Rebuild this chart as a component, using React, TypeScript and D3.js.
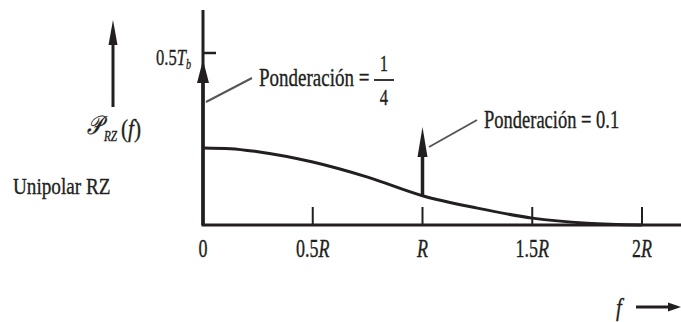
import React from "react";
import * as d3 from "d3";

// frequency in units of R, psd in units of T_b
const freqs = [0, 0.125, 0.25, 0.5, 0.75, 1, 1.25, 1.5, 1.75, 2];
const psd = [0.224, 0.222, 0.213, 0.183, 0.139, 0.085, 0.049, 0.02, 0.005, 0];
const xTicks = [0, 0.5, 1, 1.5, 2];
const xTickNums = ["0", "0.5", "", "1.5", "2"];
const impulses = [
  { f: 0, base: 0, top: 0.48 },
  { f: 1, base: 0.085, top: 0.285 }
];

const W = 681;
const H = 322;
const ink = "#231f20";
const font = "'Liberation Serif', 'DejaVu Serif', serif";

// condensed serif text, like the scanned figure
const Label = ({ x, y, size = 26, sx = 0.72, anchor = "start", children }: any) => (
  <g transform={`translate(${x},${y}) scale(${sx},1)`}>
    <text x={0} y={0} fontFamily={font} fontSize={size} textAnchor={anchor} fill={ink}
      stroke={ink} strokeWidth={0.35}>
      {children}
    </text>
  </g>
);

const App = () => {
  const x = d3.scaleLinear().domain([0, 2]).range([203, 642]);
  const y = d3.scaleLinear().domain([0, 0.5]).range([225, 53]);

  const line = d3
    .line<number>()
    .x((_, i) => x(freqs[i]))
    .y((d) => y(d))
    .curve(d3.curveMonotoneX);

  const arrowUp = (cx: number, tip: number, len: number, half: number) =>
    `M${cx},${tip} L${cx - half},${tip + len} L${cx + half},${tip + len} Z`;

  return (
    <div style={{ position: "absolute", left: 0, top: 0 }}>
      <svg width={W} height={H} style={{ display: "block", background: "#fff" }}>
        {/* axes */}
        <line x1={x(0)} x2={x(0)} y1={10} y2={y(0)} stroke={ink} strokeWidth={3} />
        <line x1={x(0) - 1.5} x2={W} y1={y(0)} y2={y(0)} stroke={ink} strokeWidth={3} />
        <line x1={x(0)} x2={x(0) + 13} y1={y(0.5)} y2={y(0.5)} stroke={ink} strokeWidth={2.5} />
        <Label x={186} y={y(0.5) + 12} size={23} anchor="end">
          0.5<tspan fontStyle="italic">T</tspan>
        </Label>
        <Label x={186} y={y(0.5) + 16} size={14}>
          <tspan fontStyle="italic">b</tspan>
        </Label>

        {xTicks.map((t, i) => (
          <g key={i}>
            {i > 0 && (
              <line x1={x(t)} x2={x(t)} y1={y(0)} y2={y(0) - 18} stroke={ink} strokeWidth={2} />
            )}
            <Label x={x(t)} y={257} size={25} anchor="middle">
              {xTickNums[i]}
              {i > 0 && <tspan fontStyle="italic">R</tspan>}
            </Label>
          </g>
        ))}

        {/* continuous spectrum */}
        <path d={line(psd) || ""} fill="none" stroke={ink} strokeWidth={3} />

        {/* impulses */}
        {impulses.map((d, i) => {
          const cx = x(d.f);
          const len = i === 0 ? 23 : 30;
          const half = i === 0 ? 6 : 5;
          return (
            <g key={i}>
              <line x1={cx} x2={cx} y1={y(d.base)} y2={y(d.top) + len - 2} stroke={ink} strokeWidth={3.5} />
              <path d={arrowUp(cx, y(d.top), len, half)} fill={ink} />
            </g>
          );
        })}

        {/* leaders and labels */}
        <line x1={206} y1={102} x2={252} y2={78} stroke="#555" strokeWidth={2} />
        <Label x={259} y={86} size={25} sx={0.76}>Ponderación =</Label>
        <Label x={384} y={71} size={23} anchor="middle">1</Label>
        <line x1={374} x2={394} y1={80} y2={80} stroke={ink} strokeWidth={1.8} />
        <Label x={384} y={105} size={23} anchor="middle">4</Label>

        <line x1={429} y1={147} x2={477} y2={120} stroke="#555" strokeWidth={2} />
        <Label x={484} y={128} size={25} sx={0.74}>Ponderación = 0.1</Label>

        {/* y label */}
        <line x1={113} x2={113} y1={40} y2={107} stroke={ink} strokeWidth={3} />
        <path d={arrowUp(113, 20, 25, 4.5)} fill={ink} />
        <Label x={87} y={134} size={26} sx={0.8}>
          <tspan fontStyle="italic">𝒫</tspan>
        </Label>
        <Label x={104} y={141} size={14} sx={0.8}>
          <tspan fontStyle="italic">RZ</tspan>
        </Label>
        <Label x={121} y={137} size={25} sx={0.85}>
          (<tspan fontStyle="italic">f</tspan>)
        </Label>
        <Label x={13} y={194} size={24} sx={0.8}>Unipolar RZ</Label>

        {/* f arrow */}
        <Label x={616} y={316} size={26} sx={0.8}>
          <tspan fontStyle="italic">f</tspan>
        </Label>
        <line x1={636} x2={672} y1={307} y2={307} stroke={ink} strokeWidth={3} />
        <path d="M681,307 L668,302.5 L668,311.5 Z" fill={ink} />
      </svg>
    </div>
  );
};

export default App;
